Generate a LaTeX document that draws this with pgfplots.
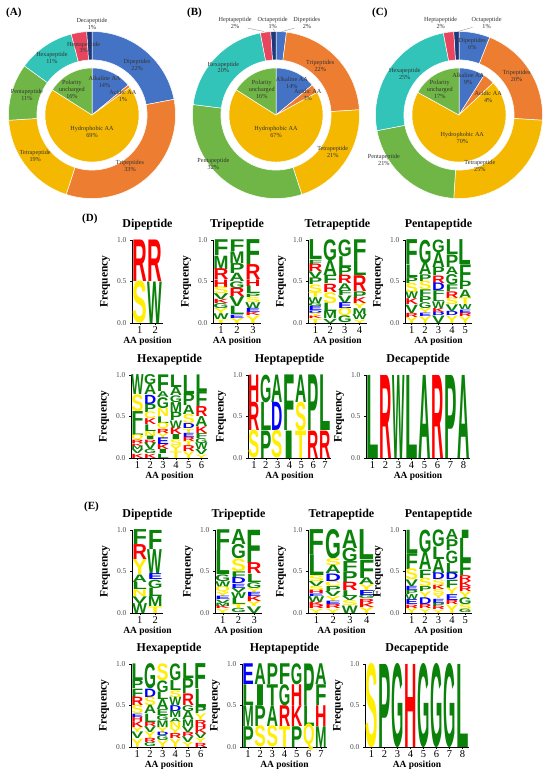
\documentclass[border=0pt]{standalone}
\usepackage{pgfplots}
\pgfplotsset{compat=1.18}
\usepackage{pgfplotstable}
\usepackage{graphicx}
\usepackage{fontspec}
\setmainfont{Liberation Serif}
\newfontfamily\logofont{Liberation Sans}
\definecolor{cG}{RGB}{10,130,10}
\definecolor{cY}{RGB}{255,238,0}
\definecolor{cR}{RGB}{255,0,0}
\definecolor{cB}{RGB}{0,0,255}
\definecolor{dBlue}{RGB}{68,114,196}
\definecolor{dOrange}{RGB}{237,125,49}
\definecolor{dGold}{RGB}{245,184,0}
\definecolor{dGreen}{RGB}{112,182,70}
\definecolor{dTeal}{RGB}{50,195,185}
\definecolor{dRed}{RGB}{232,70,95}
\definecolor{dNavy}{RGB}{31,56,120}
\newlength{\logoH}\setlength{\logoH}{83pt}
\newlength{\lh}
\newcommand{\dfont}{\fontsize{6.2}{6.8}\selectfont}

% ---------- donut sectors: start%, end%, inner r, outer r, colour
\newcommand{\sector}[5]{%
\addplot[fill=#5, draw=white, line width=0.5pt, domain=0:2.2, samples=221, variable=\t]
 ({ifthenelse(\t<1.105,#4,#3)*cos(90-3.6*(#1+ifthenelse(\t<1.105,min(\t,1),min(2.2-\t,1))*(#2-#1)))},
  {ifthenelse(\t<1.105,#4,#3)*sin(90-3.6*(#1+ifthenelse(\t<1.105,min(\t,1),min(2.2-\t,1))*(#2-#1)))}) -- cycle;
}
\pgfplotsset{donut/.style={scale only axis, width=167pt, height=167pt, xmin=-1, xmax=1, ymin=-1, ymax=1, hide axis, clip=false, anchor=center}}

% ---------- logo letters
\def\parseL#1/#2/#3/#4\relax{\setlength{\lh}{\dimexpr#3\logoH-#4\logoH\relax}\textcolor{c#1}{\resizebox{\LW}{\lh}{\logofont\bfseries #2}}}
\newcommand{\prep}[1]{%
\pgfplotstablecreatecol[create col/assign/.code={%
  \getthisrow{c}\myc\getthisrow{L}\myL\getthisrow{t}\myt\getthisrow{b}\myb
  \edef\entry{\myc/\myL/\myt/\myb}%
  \pgfkeyslet{/pgfplots/table/create col/next content}\entry}]{m}{#1}}
\newcommand{\letters}[1]{%
\addplot[only marks, mark=none, point meta=explicit symbolic,
  nodes near coords={\expandafter\parseL\pgfplotspointmeta\relax},
  every node near coord/.append style={anchor=center, inner sep=0pt, outer sep=0pt},
 ] table[x=x, y expr={(\thisrow{t}+\thisrow{b})/2}, meta=m] {#1};
}
\pgfplotsset{logo/.style={
  scale only axis, height=83pt, width=#1, ymin=0, ymax=1, xmin=0.5, anchor=south west,
  axis lines=left, axis line style={-, black, line width=0.5pt},
  tick align=outside, ytick={0,0.5,1}, major tick length=2pt,
  tick style={black, line width=0.5pt},
  /pgf/number format/assume math mode=true,
  yticklabel style={font=\fontsize{7.5}{8}\selectfont, text=black!70, /pgf/number format/.cd, fixed, fixed zerofill, precision=1},
  xticklabel style={font=\fontsize{10.5}{11}\selectfont, inner sep=1.5pt},
  title style={font=\bfseries\fontsize{12}{13}\selectfont},
  xlabel={AA position}, xlabel style={font=\bfseries\fontsize{9.5}{10}\selectfont, yshift=1.5pt},
  ylabel={Frequency}, ylabel style={font=\bfseries\fontsize{11.5}{12}\selectfont},
  clip=false}}

% ================= DATA (x, top, bottom, letter, class)
\pgfplotstableread[row sep=\\]{
x t b L c\\
1 1 .5 R R\\
1 .5 0 S Y\\
2 1 .5 R R\\
2 .5 0 W G\\
}\DDi
\pgfplotstableread[row sep=\\]{
x t b L c\\
1 1 .81 F G\\
1 .81 .65 M G\\
1 .65 .52 R R\\
1 .52 .43 H R\\
1 .43 .35 S Y\\
1 .35 .28 V G\\
1 .28 .23 K R\\
1 .23 .17 G G\\
1 .17 .11 Y Y\\
1 .11 .04 W G\\
1 .04 0 T Y\\
2 1 .86 F G\\
2 .86 .72 M G\\
2 .72 .6 P G\\
2 .6 .5 A G\\
2 .5 .42 G G\\
2 .42 .32 R R\\
2 .32 .2 V G\\
2 .2 .1 L G\\
2 .1 .06 E B\\
2 .06 0 Y Y\\
3 1 .7 F G\\
3 .7 .52 R R\\
3 .52 .44 H R\\
3 .44 .35 L G\\
3 .35 .31 P G\\
3 .31 .25 S Y\\
3 .25 .18 W G\\
3 .18 .13 E B\\
3 .13 .09 K R\\
3 .09 0 Y Y\\
}\DTri
\pgfplotstableread[row sep=\\]{
x t b L c\\
1 1 .76 L G\\
1 .76 .71 F G\\
1 .71 .62 R R\\
1 .62 .54 V G\\
1 .54 .46 P G\\
1 .46 .37 S Y\\
1 .37 .31 T Y\\
1 .31 .24 W G\\
1 .24 .2 G G\\
1 .2 .15 E B\\
1 .15 .12 D B\\
1 .12 .08 Y Y\\
1 .08 .05 K R\\
1 .05 0 T Y\\
2 1 .75 G G\\
2 .75 .57 A G\\
2 .57 .47 F G\\
2 .47 .37 R R\\
2 .37 .24 S Y\\
2 .24 .14 L G\\
2 .14 .05 M G\\
2 .05 0 V G\\
3 1 .8 G G\\
3 .8 .67 L G\\
3 .67 .57 P G\\
3 .57 .47 R R\\
3 .47 .39 A G\\
3 .39 .33 F G\\
3 .33 .24 V G\\
3 .24 .17 E B\\
3 .17 .08 Q Y\\
3 .08 0 G G\\
4 1 .75 F G\\
4 .75 .57 L G\\
4 .57 .38 R R\\
4 .38 .3 P G\\
4 .3 .23 K R\\
4 .23 .17 Y Y\\
4 .17 .1 M G\\
4 .1 .04 W G\\
4 .04 0 Y Y\\
}\DTet
\pgfplotstableread[row sep=\\]{
x t b L c\\
1 1 .7 F G\\
1 .7 .55 L G\\
1 .55 .48 P G\\
1 .48 .37 S Y\\
1 .37 .29 W G\\
1 .29 .22 K R\\
1 .22 .12 V G\\
1 .12 .07 R R\\
1 .07 0 Y Y\\
2 1 .72 G G\\
2 .72 .58 A G\\
2 .58 .5 P G\\
2 .5 .4 S Y\\
2 .4 .32 F G\\
2 .32 .25 P G\\
2 .25 .18 G G\\
2 .18 .12 Y Y\\
2 .12 .08 E B\\
2 .08 0 Y Y\\
3 1 .85 G G\\
3 .85 .67 A G\\
3 .67 .57 P G\\
3 .57 .48 R R\\
3 .48 .39 D B\\
3 .39 .32 F G\\
3 .32 .26 L G\\
3 .26 .18 W G\\
3 .18 .13 K R\\
3 .13 .09 D B\\
3 .09 0 V G\\
4 1 .82 L G\\
4 .82 .67 P G\\
4 .67 .58 A G\\
4 .58 .46 G G\\
4 .46 .38 F G\\
4 .38 .3 R R\\
4 .3 .22 S Y\\
4 .22 .14 V G\\
4 .14 .09 D B\\
4 .09 0 Y Y\\
5 1 .7 L G\\
5 .7 .5 F G\\
5 .5 .4 P G\\
5 .4 .3 A G\\
5 .3 .22 T Y\\
5 .22 .16 W G\\
5 .16 .12 E B\\
5 .12 .08 R R\\
5 .08 0 Y Y\\
}\DPen
\pgfplotstableread[row sep=\\]{
x t b L c\\
1 1 .76 W G\\
1 .76 .56 S Y\\
1 .56 .38 F G\\
1 .38 .27 L G\\
1 .27 .21 Q Y\\
1 .21 .17 R R\\
1 .17 .14 K R\\
1 .14 .1 M G\\
1 .1 .05 V G\\
1 .05 0 K R\\
2 1 .88 G G\\
2 .88 .76 A G\\
2 .76 .65 D B\\
2 .65 .55 P G\\
2 .55 .47 C Y\\
2 .47 .4 K R\\
2 .4 .32 L G\\
2 .32 .26 N Y\\
2 .26 .22 I G\\
2 .22 .18 R R\\
2 .18 .1 V G\\
2 .1 .05 G G\\
2 .05 0 K R\\
3 1 .8 F G\\
3 .8 .73 A G\\
3 .73 .6 G G\\
3 .6 .5 N Y\\
3 .5 .42 L G\\
3 .42 .35 Q Y\\
3 .35 .3 R R\\
3 .3 .24 Y Y\\
3 .24 .16 E B\\
3 .16 .1 K R\\
3 .1 .05 I G\\
3 .05 0 L G\\
4 1 .85 L G\\
4 .85 .75 A G\\
4 .75 .67 G G\\
4 .67 .55 M G\\
4 .55 .45 P G\\
4 .45 .36 W G\\
4 .36 .28 K R\\
4 .28 .22 I G\\
4 .22 .15 S Y\\
4 .15 .08 Y Y\\
4 .08 0 T Y\\
5 1 .77 L G\\
5 .77 .63 P G\\
5 .63 .52 A G\\
5 .52 .41 S Y\\
5 .41 .35 D B\\
5 .35 .3 T Y\\
5 .3 .25 E B\\
5 .25 .2 R R\\
5 .2 .15 T Y\\
5 .15 .08 R R\\
5 .08 0 Y Y\\
6 1 .8 L G\\
6 .8 .62 F G\\
6 .62 .5 R R\\
6 .5 .38 A G\\
6 .38 .3 K R\\
6 .3 .24 F G\\
6 .24 .18 G G\\
6 .18 .1 W G\\
6 .1 .04 V G\\
6 .04 0 Y Y\\
}\DHex
\pgfplotstableread[row sep=\\]{
x t b L c\\
1 1 .67 H R\\
1 .67 .33 R R\\
1 .33 0 S Y\\
2 1 .67 G G\\
2 .67 .33 L G\\
2 .33 0 P G\\
3 1 .67 A G\\
3 .67 .33 D B\\
3 .33 0 S Y\\
4 1 .33 F G\\
4 .33 0 I G\\
5 1 .67 A G\\
5 .67 .33 S Y\\
5 .33 0 T Y\\
6 1 .33 P G\\
6 .33 0 R R\\
7 1 .33 L G\\
7 .33 0 R R\\
}\DHep
\pgfplotstableread[row sep=\\]{
x t b L c\\
1 1 0 L G\\
2 1 0 R R\\
3 1 0 W G\\
4 1 0 L G\\
5 1 0 A G\\
6 1 0 R R\\
7 1 0 P G\\
8 1 0 A G\\
}\DDec
% ----- E
\pgfplotstableread[row sep=\\]{
x t b L c\\
1 1 .82 F G\\
1 .82 .64 R R\\
1 .64 .46 Y Y\\
1 .46 .37 A G\\
1 .37 .28 L G\\
1 .28 .2 N Y\\
1 .2 .12 V G\\
1 .12 0 W G\\
2 1 .77 F G\\
2 .77 .47 W G\\
2 .47 .4 E B\\
2 .4 .3 G G\\
2 .3 .2 L G\\
2 .2 .08 M G\\
2 .08 0 T Y\\
}\EDi
\pgfplotstableread[row sep=\\]{
x t b L c\\
1 1 .75 F G\\
1 .75 .46 L G\\
1 .46 .38 G G\\
1 .38 .31 W G\\
1 .31 .25 Q Y\\
1 .25 .2 Y Y\\
1 .2 .16 E B\\
1 .16 .12 V G\\
1 .12 .08 M G\\
1 .08 .05 K R\\
1 .05 0 Y Y\\
2 1 .82 A G\\
2 .82 .65 G G\\
2 .65 .5 S Y\\
2 .5 .42 F G\\
2 .42 .35 D B\\
2 .35 .3 E B\\
2 .3 .25 V G\\
2 .25 .18 W G\\
2 .18 .1 L G\\
2 .1 .05 T Y\\
2 .05 0 G G\\
3 1 .6 F G\\
3 .6 .47 R R\\
3 .47 .37 L G\\
3 .37 .3 G G\\
3 .3 .25 Y Y\\
3 .25 .2 E B\\
3 .2 .14 K R\\
3 .14 .08 Y Y\\
3 .08 0 V G\\
}\ETri
\pgfplotstableread[row sep=\\]{
x t b L c\\
1 1 .7 F G\\
1 .7 .45 L G\\
1 .45 .38 S Y\\
1 .38 .32 V G\\
1 .32 .27 S Y\\
1 .27 .23 H R\\
1 .23 .2 E B\\
1 .2 .13 W G\\
1 .13 .09 K R\\
1 .09 .05 R R\\
1 .05 0 Y Y\\
2 1 .65 G G\\
2 .65 .57 S Y\\
2 .57 .47 A G\\
2 .47 .38 D B\\
2 .38 .32 C Y\\
2 .32 .26 P G\\
2 .26 .2 V G\\
2 .2 .14 Y Y\\
2 .14 .1 E B\\
2 .1 .05 R R\\
2 .05 0 Y Y\\
3 1 .78 A G\\
3 .78 .62 G G\\
3 .62 .5 F G\\
3 .5 .37 P G\\
3 .37 .27 R R\\
3 .27 .2 L G\\
3 .2 .15 V G\\
3 .15 .09 S Y\\
3 .09 0 W G\\
4 1 .64 L G\\
4 .64 .42 F G\\
4 .42 .34 A G\\
4 .34 .27 Y Y\\
4 .27 .21 E B\\
4 .21 .17 G G\\
4 .17 .12 R R\\
4 .12 .07 K R\\
4 .07 0 Y Y\\
}\ETet
\pgfplotstableread[row sep=\\]{
x t b L c\\
1 1 .72 L G\\
1 .72 .53 F G\\
1 .53 .4 S Y\\
1 .4 .32 V G\\
1 .32 .27 E B\\
1 .27 .22 P G\\
1 .22 .16 W G\\
1 .16 .1 E B\\
1 .1 .06 R R\\
1 .06 0 Y Y\\
2 1 .73 G G\\
2 .73 .52 A G\\
2 .52 .42 F G\\
2 .42 .32 S Y\\
2 .32 .26 P G\\
2 .26 .18 Y Y\\
2 .18 .1 D B\\
2 .1 .05 R R\\
2 .05 0 Y Y\\
3 1 .8 G G\\
3 .8 .65 L G\\
3 .65 .48 A G\\
3 .48 .4 D B\\
3 .4 .33 S Y\\
3 .33 .28 K R\\
3 .28 .22 S Y\\
3 .22 .17 Y Y\\
3 .17 .12 E B\\
3 .12 .08 P G\\
3 .08 .04 R R\\
3 .04 0 Y Y\\
4 1 .88 A G\\
4 .88 .75 P G\\
4 .75 .6 G G\\
4 .6 .48 L G\\
4 .48 .4 D B\\
4 .4 .3 F G\\
4 .3 .22 Y Y\\
4 .22 .15 E B\\
4 .15 .1 R R\\
4 .1 0 Y Y\\
5 1 .9 I G\\
5 .9 .62 L G\\
5 .62 .45 F G\\
5 .45 .38 R R\\
5 .38 .32 K R\\
5 .32 .26 R R\\
5 .26 .18 Y Y\\
5 .18 .1 G G\\
5 .1 .04 S Y\\
5 .04 0 G G\\
}\EPen
\pgfplotstableread[row sep=\\]{
x t b L c\\
1 1 .8 L G\\
1 .8 .7 P G\\
1 .7 .6 F G\\
1 .6 .5 R R\\
1 .5 .4 S Y\\
1 .4 .36 E B\\
1 .36 .31 H R\\
1 .31 .24 K R\\
1 .24 .18 Y Y\\
1 .18 .1 V G\\
1 .1 0 Y Y\\
2 1 .7 G G\\
2 .7 .6 D B\\
2 .6 .5 S Y\\
2 .5 .4 A G\\
2 .4 .3 L G\\
2 .3 .25 R R\\
2 .25 .18 V G\\
2 .18 .1 Y Y\\
2 .1 .05 R R\\
2 .05 0 G G\\
3 1 .8 S Y\\
3 .8 .66 G G\\
3 .66 .57 L G\\
3 .57 .45 A G\\
3 .45 .38 E G\\
3 .38 .32 G G\\
3 .32 .24 M G\\
3 .24 .18 Y Y\\
3 .18 .14 D B\\
3 .14 .08 G G\\
3 .08 0 Y Y\\
4 1 .8 G G\\
4 .8 .68 L G\\
4 .68 .6 S Y\\
4 .6 .5 W G\\
4 .5 .43 D B\\
4 .43 .35 M G\\
4 .35 .3 A G\\
4 .3 .22 N Y\\
4 .22 .16 Y Y\\
4 .16 .1 R R\\
4 .1 0 Y Y\\
5 1 .82 L G\\
5 .82 .64 P G\\
5 .64 .5 R R\\
5 .5 .43 G G\\
5 .43 .33 A G\\
5 .33 .25 M G\\
5 .25 .18 V G\\
5 .18 .13 R R\\
5 .13 .06 V G\\
5 .06 0 Y Y\\
6 1 .7 F G\\
6 .7 .48 L G\\
6 .48 .4 P G\\
6 .4 .32 Y Y\\
6 .32 .26 R R\\
6 .26 .22 H R\\
6 .22 .16 K R\\
6 .16 .1 V G\\
6 .1 .05 Y Y\\
6 .05 0 R R\\
}\EHex
\pgfplotstableread[row sep=\\]{
x t b L c\\
1 1 .75 E B\\
1 .75 .5 L G\\
1 .5 .25 M G\\
1 .25 0 P G\\
2 1 .75 A G\\
2 .75 .5 I G\\
2 .5 .25 P G\\
2 .25 0 S Y\\
3 1 .75 P G\\
3 .75 .5 T G\\
3 .5 .25 A G\\
3 .25 0 S Y\\
4 1 .75 F G\\
4 .75 .5 G G\\
4 .5 .25 R R\\
4 .25 0 T Y\\
5 1 .75 G G\\
5 .75 .5 H R\\
5 .5 .25 K R\\
5 .25 0 P G\\
6 1 .5 P G\\
6 .5 .25 L G\\
6 .25 0 Q Y\\
7 1 .75 A G\\
7 .75 .5 F G\\
7 .5 .25 H R\\
7 .25 0 M G\\
}\EHep
\pgfplotstableread[row sep=\\]{
x t b L c\\
1 1 0 S Y\\
2 1 0 P G\\
3 1 0 G G\\
4 1 0 H R\\
5 1 0 G G\\
6 1 0 G G\\
7 1 0 G G\\
8 1 0 L G\\
}\EDec
\prep{\DDi}\prep{\DTri}\prep{\DTet}\prep{\DPen}\prep{\DHex}\prep{\DHep}\prep{\DDec}
\prep{\EDi}\prep{\ETri}\prep{\ETet}\prep{\EPen}\prep{\EHex}\prep{\EHep}\prep{\EDec}

\begin{document}
\begin{tikzpicture}
\useasboundingbox (0,0) rectangle (550pt,-780pt);
\fill[white] (0,0) rectangle (550pt,-780pt);

% ================= DONUTS
\begin{axis}[donut, at={(92pt,-115pt)}]
\sector{0}{22}{0.66}{1}{dBlue}
\sector{22}{55}{0.66}{1}{dOrange}
\sector{55}{74}{0.66}{1}{dGold}
\sector{74}{85}{0.66}{1}{dGreen}
\sector{85}{96}{0.66}{1}{dTeal}
\sector{96}{99}{0.66}{1}{dRed}
\sector{99}{100}{0.66}{1}{dNavy}
\sector{0}{14}{0}{0.563}{dBlue}
\sector{14}{15}{0}{0.563}{dOrange}
\sector{15}{84}{0}{0.563}{dGold}
\sector{84}{100}{0}{0.563}{dGreen}
\begin{scope}[every node/.style={font=\dfont, align=center, text=black!80, inner sep=0pt}]
\node at (axis cs:0,1.09) {Decapeptide\\1\%};
\node at (axis cs:0.54,0.6) {Dipeptides\\22\%};
\node at (axis cs:0.455,-0.61) {Tripeptides\\33\%};
\node at (axis cs:-0.68,-0.49) {Tetrapeptide\\19\%};
\node at (axis cs:-0.78,0.24) {Pentapeptide\\11\%};
\node at (axis cs:-0.48,0.68) {Hexapeptide\\11\%};
\node at (axis cs:-0.1,0.81) {Heptapeptide\\3\%};
\node at (axis cs:0.15,0.4) {Alkaline AA\\14\%};
\node at (axis cs:0.37,0.23) {Acidic AA\\1\%};
\node at (axis cs:-0.24,0.31) {Polarity\\uncharged\\16\%};
\node at (axis cs:0,-0.2) {Hydrophobic AA\\69\%};
\end{scope}
\end{axis}

\begin{axis}[donut, at={(276pt,-115pt)}]
\sector{0}{2}{0.66}{1}{dBlue}
\sector{2}{24}{0.66}{1}{dOrange}
\sector{24}{45}{0.66}{1}{dGold}
\sector{45}{77}{0.66}{1}{dGreen}
\sector{77}{97}{0.66}{1}{dTeal}
\sector{97}{99}{0.66}{1}{dRed}
\sector{99}{100}{0.66}{1}{dNavy}
\sector{0}{14}{0}{0.563}{dBlue}
\sector{14}{17}{0}{0.563}{dOrange}
\sector{17}{84}{0}{0.563}{dGold}
\sector{84}{100}{0}{0.563}{dGreen}
\addplot[black!50, line width=0.3pt] coordinates {(-0.34,1.04) (-0.14,1.0)};
\addplot[black!50, line width=0.3pt] coordinates {(0.22,1.04) (0.07,1.0)};
\addplot[black!50, line width=0.3pt] coordinates {(-0.03,1.03) (-0.016,1.0)};
\begin{scope}[every node/.style={font=\dfont, align=center, text=black!80, inner sep=0pt}]
\node at (axis cs:-0.49,1.1) {Heptapeptide\\2\%};
\node at (axis cs:-0.04,1.1) {Octapeptide\\1\%};
\node at (axis cs:0.37,1.1) {Dipeptides\\2\%};
\node at (axis cs:0.53,0.59) {Tripeptides\\22\%};
\node at (axis cs:0.68,-0.44) {Tetrapeptide\\21\%};
\node at (axis cs:-0.75,-0.59) {Pentapeptide\\32\%};
\node at (axis cs:-0.63,0.57) {Hexapeptide\\20\%};
\node at (axis cs:0.19,0.38) {Alkaline AA\\14\%};
\node at (axis cs:0.38,0.24) {Acidic AA\\3\%};
\node at (axis cs:-0.17,0.31) {Polarity\\uncharged\\16\%};
\node at (axis cs:0,-0.2) {Hydrophobic AA\\67\%};
\end{scope}
\end{axis}

\begin{axis}[donut, at={(459pt,-115pt)}]
\sector{0}{6}{0.66}{1}{dBlue}
\sector{6}{26}{0.66}{1}{dOrange}
\sector{26}{51}{0.66}{1}{dGold}
\sector{51}{72}{0.66}{1}{dGreen}
\sector{72}{97}{0.66}{1}{dTeal}
\sector{97}{99}{0.66}{1}{dRed}
\sector{99}{100}{0.66}{1}{dNavy}
\sector{0}{9}{0}{0.563}{dBlue}
\sector{9}{13}{0}{0.563}{dOrange}
\sector{13}{83}{0}{0.563}{dGold}
\sector{83}{100}{0}{0.563}{dGreen}
\addplot[black!50, line width=0.3pt] coordinates {(0.16,1.05) (-0.01,1.0)};
\begin{scope}[every node/.style={font=\dfont, align=center, text=black!80, inner sep=0pt}]
\node at (axis cs:-0.22,1.1) {Heptapeptide\\2\%};
\node at (axis cs:0.33,1.1) {Octapeptide\\1\%};
\node at (axis cs:0.16,0.85) {Dipeptides\\6\%};
\node at (axis cs:0.69,0.47) {Tripeptides\\20\%};
\node at (axis cs:0.25,-0.61) {Tetrapeptide\\25\%};
\node at (axis cs:-0.9,-0.54) {Pentapeptide\\21\%};
\node at (axis cs:-0.65,0.49) {Hexapeptide\\25\%};
\node at (axis cs:0.11,0.43) {Alkaline AA\\9\%};
\node at (axis cs:0.35,0.22) {Acidic AA\\4\%};
\node at (axis cs:-0.23,0.31) {Polarity\\uncharged\\17\%};
\node at (axis cs:0.04,-0.27) {Hydrophobic AA\\70\%};
\end{scope}
\end{axis}

\begin{scope}[every node/.style={font=\bfseries\fontsize{11}{12}\selectfont, anchor=west, inner sep=0pt}]
\node at (6pt,-13pt) {(A)};
\node at (187pt,-13pt) {(B)};
\node at (372pt,-13pt) {(C)};
\node at (82pt,-219pt) {(D)};
\node at (84pt,-507pt) {(E)};
\end{scope}

% ================= D row 1
\def\LW{14.7pt}
\begin{axis}[logo=31pt, at={(132pt,-323pt)}, xmax=2.5, xtick={1,2}, title={Dipeptide}]
\letters{\DDi}
\end{axis}
\def\LW{15.2pt}
\begin{axis}[logo=48pt, at={(213pt,-323pt)}, xmax=3.5, xtick={1,2,3}, title={Tripeptide}]
\letters{\DTri}
\end{axis}
\def\LW{14pt}
\begin{axis}[logo=59pt, at={(308pt,-323pt)}, xmax=4.5, xtick={1,...,4}, title={Tetrapeptide}]
\letters{\DTet}
\end{axis}
\def\LW{12.7pt}
\begin{axis}[logo=67pt, at={(405pt,-323pt)}, xmax=5.5, xtick={1,...,5}, title={Pentapeptide}]
\letters{\DPen}
\end{axis}
% ================= D row 2
\def\LW{12.2pt}
\begin{axis}[logo=77pt, at={(131pt,-458pt)}, xmax=6.5, xtick={1,...,6}, title={Hexapeptide}]
\letters{\DHex}
\end{axis}
\def\LW{11.3pt}
\begin{axis}[logo=83pt, at={(248pt,-458pt)}, xmax=7.5, xtick={1,...,7}, title={Heptapeptide}]
\letters{\DHep}
\end{axis}
\def\LW{12.4pt}
\begin{axis}[logo=104pt, at={(366pt,-458pt)}, xmax=8.5, xtick={1,...,8}, title={Decapeptide}]
\letters{\DDec}
\end{axis}
% ================= E row 1
\def\LW{14.7pt}
\begin{axis}[logo=31pt, at={(132pt,-613pt)}, xmax=2.5, xtick={1,2}, title={Dipeptide}]
\letters{\EDi}
\end{axis}
\def\LW{14.9pt}
\begin{axis}[logo=47pt, at={(215pt,-613pt)}, xmax=3.5, xtick={1,2,3}, title={Tripeptide}]
\letters{\ETri}
\end{axis}
\def\LW{15.9pt}
\begin{axis}[logo=67pt, at={(308pt,-613pt)}, xmax=4.5, xtick={1,...,4}, title={Tetrapeptide}]
\letters{\ETet}
\end{axis}
\def\LW{12.7pt}
\begin{axis}[logo=67pt, at={(405pt,-613pt)}, xmax=5.5, xtick={1,...,5}, title={Pentapeptide}]
\letters{\EPen}
\end{axis}
% ================= E row 2
\def\LW{12pt}
\begin{axis}[logo=76pt, at={(131pt,-747pt)}, xmax=6.5, xtick={1,...,6}, title={Hexapeptide}]
\letters{\EHex}
\end{axis}
\def\LW{11.5pt}
\begin{axis}[logo=85pt, at={(242pt,-747pt)}, xmax=7.5, xtick={1,...,7}, title={Heptapeptide}]
\letters{\EHep}
\end{axis}
\def\LW{12.4pt}
\begin{axis}[logo=104pt, at={(365pt,-747pt)}, xmax=8.5, xtick={1,...,8}, title={Decapeptide}]
\letters{\EDec}
\end{axis}
\end{tikzpicture}
\end{document}
